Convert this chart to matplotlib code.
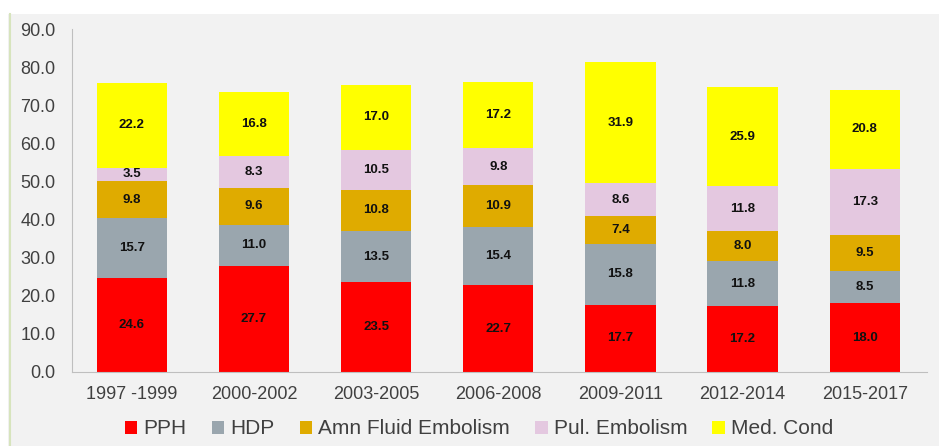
import numpy as np
import matplotlib.pyplot as plt
from matplotlib.patches import Rectangle

plt.rcParams['font.family'] = ['Liberation Sans', 'DejaVu Sans']

periods = ['1997 -1999', '2000-2002', '2003-2005', '2006-2008', '2009-2011', '2012-2014', '2015-2017']
causes = ['PPH', 'HDP', 'Amn Fluid Embolism', 'Pul. Embolism', 'Med. Cond']
pph = [24.6, 27.7, 23.5, 22.7, 17.7, 17.2, 18.0]
hdp = [15.7, 11.0, 13.5, 15.4, 15.8, 11.8, 8.5]
amn = [9.8, 9.6, 10.8, 10.9, 7.4, 8.0, 9.5]
pul = [3.5, 8.3, 10.5, 9.8, 8.6, 11.8, 17.3]
med = [22.2, 16.8, 17.0, 17.2, 31.9, 25.9, 20.8]
colors = ['#ff0000', '#9aa6ae', '#dfab00', '#e4c8e0', '#ffff00']

fig = plt.figure(figsize=(9.39, 4.46), dpi=100)
fig.patch.set_facecolor('white')
# light grey chart area with a pale green left edge
fig.patches.append(Rectangle((8/939, 0), 1, 1 - 14/446, transform=fig.transFigure,
                             facecolor='#f2f2f2', edgecolor='none', zorder=-10))
fig.add_artist(plt.Line2D([10/939, 10/939], [0, 1 - 14/446], transform=fig.transFigure,
                          color='#d7e4bd', lw=1.5))

ax = fig.add_axes([72/939, 1 - 372/446, (927 - 72)/939, (372 - 29)/446])
ax.set_facecolor('none')

x = np.arange(len(periods))
bottom = np.zeros(len(periods))
for name, vals, c in zip(causes, [pph, hdp, amn, pul, med], colors):
    vals = np.array(vals)
    ax.bar(x, vals, 0.575, bottom=bottom, color=c, label=name)
    for xi, b, v in zip(x, bottom, vals):
        ax.text(xi, b + v / 2, f'{v:.1f}', ha='center', va='center',
                fontsize=9.5, fontweight='bold', color='#111111')
    bottom += vals

ax.set_xlim(-0.49, 6.51)
ax.set_ylim(0, 90)
ax.set_yticks(np.arange(0, 91, 10))
ax.set_yticklabels([f'{v:.1f}' for v in np.arange(0, 91, 10)])
ax.set_xticks(x)
ax.set_xticklabels(periods)
ax.tick_params(axis='y', length=0, pad=12, labelsize=13, labelcolor='#404040')
ax.tick_params(axis='x', length=0, pad=10, labelsize=13, labelcolor='#404040')
for s in ['top', 'right']:
    ax.spines[s].set_visible(False)
ax.spines['left'].set_color('#bfbfbf')
ax.spines['bottom'].set_color('#bfbfbf')

fig.legend(loc='center', bbox_to_anchor=(479/939, 1 - 429/446), ncol=5, frameon=False,
           fontsize=15, handlelength=0.6, handleheight=0.6, handletextpad=0.3,
           columnspacing=1.2, labelcolor='#404040')

fig.savefig('out.png', dpi=100)
